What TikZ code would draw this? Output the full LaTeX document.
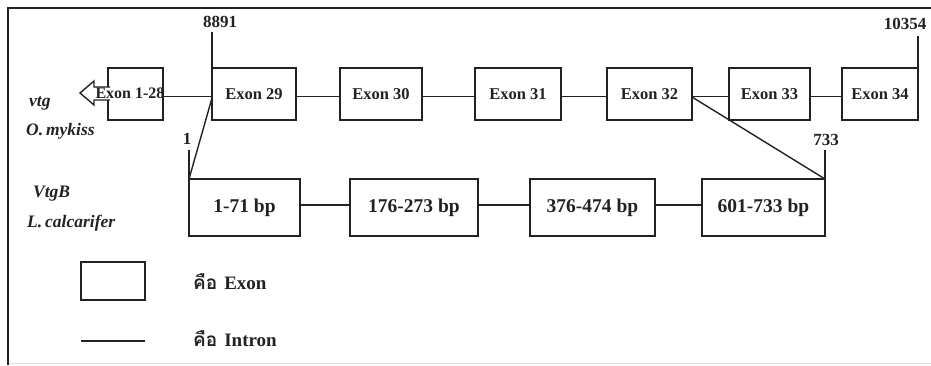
\documentclass[tikz,border=0pt]{standalone}
\usepackage{fontspec}
\setmainfont{Liberation Serif}
\newfontfamily\thaifont[Script=Thai]{Loma}
\definecolor{ink}{HTML}{222222}
\begin{document}
\begin{tikzpicture}[x=1pt,y=-1pt,
  exonbox/.style={draw=ink,line width=1.6pt,fill=white,inner sep=0pt,outer sep=0pt,minimum height=52pt,font=\fontsize{16.5}{17}\selectfont\bfseries,text=ink},
  bpbox/.style={draw=ink,line width=1.6pt,fill=white,inner sep=0pt,outer sep=0pt,minimum height=57pt,font=\fontsize{19.5}{20}\selectfont\bfseries,text=ink},
  intron/.style={draw=ink,line width=1.4pt},
  numlab/.style={inner sep=0pt,font=\fontsize{17}{18}\selectfont\bfseries,text=ink},
  species/.style={inner sep=0pt,anchor=west,font=\fontsize{17.5}{18}\selectfont\bfseries\itshape,text=ink},
  legtext/.style={inner sep=0pt,anchor=west,font=\fontsize{19}{20}\selectfont\bfseries,text=ink}]
\useasboundingbox (0,0) rectangle (931,365);
% frame
\draw[ink,line width=1.8pt] (8,365) -- (8,8) -- (931,8);
\draw[black!12,line width=1pt] (9,363) -- (931,363);
% upper exons
\node[exonbox,minimum width=55pt] (e128) at (135.5,94) {};
\node[exonbox,minimum width=84pt] (e29) at (254,94) {Exon 29};
\node[exonbox,minimum width=82pt] (e30) at (381,94) {Exon 30};
\node[exonbox,minimum width=86pt] (e31) at (518,94) {Exon 31};
\node[exonbox,minimum width=85pt] (e32) at (649.5,94) {Exon 32};
\node[exonbox,minimum width=81pt] (e33) at (769.5,94) {Exon 33};
\node[exonbox,minimum width=76pt] (e34) at (880,94) {Exon 34};
% open arrow
\fill[white] (80,93) -- (94,81) -- (94,87) -- (110,87) -- (110,100) -- (94,100) -- (94,105) -- cycle;
\draw[ink,line width=1.4pt,line join=miter] (110,87) -- (94,87) -- (94,81) -- (80,93) -- (94,105) -- (94,100) -- (110,100);
\node[inner sep=0pt,font=\fontsize{16}{17}\selectfont\bfseries,text=ink] (t128) at (130,93) {Exon 1-28};
% lower exons
\node[bpbox,minimum width=111pt] (b1) at (244.5,207.5) {1-71 bp};
\node[bpbox,minimum width=128pt] (b2) at (414,207.5) {176-273 bp};
\node[bpbox,minimum width=125pt] (b3) at (592.5,207.5) {376-474 bp};
\node[bpbox,minimum width=123pt] (b4) at (763.5,207.5) {601-733 bp};
% introns upper
\draw[intron] ([yshift=-2.5pt]e128.east) -- ([yshift=-2.5pt]e29.west);
\draw[intron] ([yshift=-2.5pt]e29.east) -- ([yshift=-2.5pt]e30.west);
\draw[intron] ([yshift=-2.5pt]e30.east) -- ([yshift=-2.5pt]e31.west);
\draw[intron] ([yshift=-2.5pt]e31.east) -- ([yshift=-2.5pt]e32.west);
\draw[intron] ([yshift=-2.5pt]e32.east) -- ([yshift=-2.5pt]e33.west);
\draw[intron] ([yshift=-2.5pt]e33.east) -- ([yshift=-2.5pt]e34.west);
% introns lower
\draw[intron] ([yshift=2.5pt]b1.east) -- ([yshift=2.5pt]b2.west);
\draw[intron] ([yshift=2.5pt]b2.east) -- ([yshift=2.5pt]b3.west);
\draw[intron] ([yshift=2.5pt]b3.east) -- ([yshift=2.5pt]b4.west);
% diagonals
\draw[intron] ([yshift=-4pt]e29.west) -- (b1.north west);
\draw[intron] ([yshift=-3pt]e32.east) -- (b4.north east);
% position labels
\node[numlab] (n8891) at (220,22) {8891};
\coordinate (c8891) at (212,32);
\draw[intron] (e29.north west) -- (e29.north west |- c8891);
\node[numlab] (n10354) at (905,24) {10354};
\coordinate (c10354) at (918,36);
\draw[intron] (e34.north east) -- (e34.north east |- c10354);
\node[numlab] (n1) at (187,139) {1};
\coordinate (c1) at (188,150);
\draw[intron] (b1.north west) -- (b1.north west |- c1);
\node[numlab] (n733) at (826,140) {733};
\coordinate (c733) at (823,150);
\draw[intron] (b4.north east) -- (b4.north east |- c733);
% species labels
\node[species] (vtg) at (29,103) {vtg};
\node[species] (omy) at (26,131) {O.\,mykiss};
\node[species] (vtgb) at (33,194) {VtgB};
\node[species] (lca) at (27,223) {L.\,calcarifer};
% legend
\node[draw=ink,line width=1.6pt,minimum width=64pt,minimum height=38pt,inner sep=0pt] (legbox) at (113,281) {};
\coordinate (legl) at (81,341);
\coordinate (legr) at (145,341);
\draw[intron] (legl) -- (legr);
\node[legtext] (legexon) at (193,282) {{\thaifont คือ}\hspace{7pt}Exon};
\node[legtext] (legintron) at (193,339) {{\thaifont คือ}\hspace{7pt}Intron};
\end{tikzpicture}
\end{document}
